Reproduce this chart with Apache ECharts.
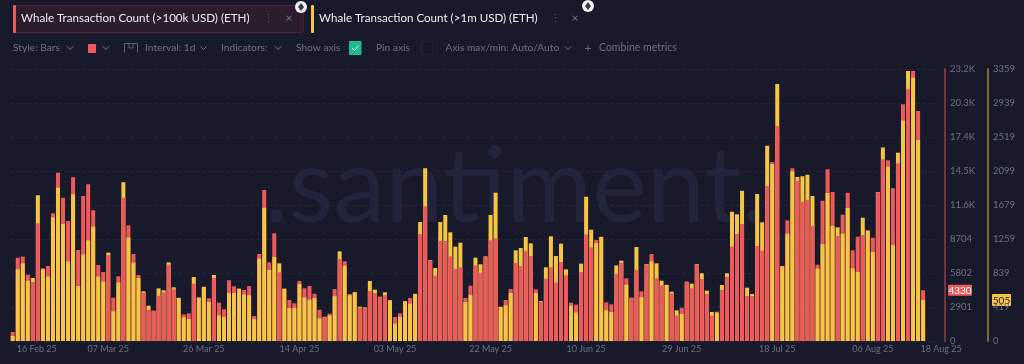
<!DOCTYPE html>
<html>
<head>
<meta charset="utf-8">
<title>Whale Transaction Count</title>
<script src="https://cdn.jsdelivr.net/npm/echarts@6/dist/echarts.min.js"></script>
<style>
html,body{margin:0;padding:0;background:#181a2b;}
#main{width:1024px;height:364px;}
</style>
</head>
<body>
<div id="main"></div>
<script>
var startDay = Date.UTC(2025, 1, 16);
var dayCount = 184; // last two days (17, 18 Aug) have no bars yet

var whale100k = [768,7110,7195,5660,5034,10039,6200,6399,10893,14362,12229,10238,13964,7764,12371,13367,11148,6484,5887,7338,
3697,5517,12229,9869,7423,5631,4124,2645,2560,3868,4152,6513,4408,3697,2275,2361,4892,3726,4636,3640,
5375,3271,2702,5176,4664,4494,4351,4693,2133,7423,12883,6712,9186,5859,4494,3498,3214,5119,4494,4693,
4038,2673,2019,2332,4437,6996,6797,4010,4181,2844,2844,4266,4095,3754,3925,3498,2048,2361,3413,3669,
4038,9129,11490,6882,5574,8532,8532,7224,6143,6285,3669,4721,6456,5830,7195,8589,8760,2929,3498,4437,
6655,6399,7679,7252,4408,3384,5318,6285,5005,6740,5603,3271,3100,5887,9101,7992,8617,8902,3299,3128,
5716,6683,5347,3669,6058,4238,6541,7423,5347,4749,4806,4067,2161,2844,5034,4494,6541,5290,4010,2161,
2503,4351,5489,8049,9129,9982,3839,3839,8105,7707,13225,15272,18344,6399,10295,14732,13680,11888,12059,9812,
6513,11973,14647,12713,8959,10779,12656,7736,8902,9044,9442,8816,12684,15500,15414,13026,15159,20192,21472,23036,
19624,4330,null,null];

var whale1m = [62,885,959,745,778,1799,885,794,1527,1893,1445,980,1811,679,1070,1243,1412,794,733,1091,
366,724,1959,1276,967,778,613,436,375,650,626,971,663,531,292,272,790,535,667,482,
815,317,296,593,593,642,576,564,272,1017,1646,877,1037,959,642,407,412,704,539,510,
531,280,300,317,552,1107,930,564,601,424,416,741,634,547,601,502,214,296,490,461,
580,1469,2132,1000,901,1469,1556,1342,1165,1214,482,568,1029,947,1045,1556,1832,420,440,593,
1120,1148,1284,1206,593,494,910,1292,1050,1202,885,436,350,955,1782,1375,1210,1284,379,358,
934,992,696,535,1161,543,951,984,959,745,691,609,379,333,733,708,951,836,622,358,
350,691,836,1597,1564,1856,659,580,1815,1465,2412,2186,3173,922,1325,2095,2025,2033,2054,1790,
893,1194,1827,1420,1404,1325,1642,897,852,1523,1362,1099,1840,2391,2153,1185,2326,2721,3334,3252,
2482,505,null,null];

var redTicks = ['0','2901','5802','8704','11.6K','14.5K','17.4K','20.3K','23.2K'];
var yellowTicks = ['0','419','839','1259','1679','2099','2519','2939','3359'];
var xTickDays = ['16 Feb 25','07 Mar 25','26 Mar 25','14 Apr 25','03 May 25','22 May 25','10 Jun 25','29 Jun 25','18 Jul 25','06 Aug 25','18 Aug 25'];

var lastRed = 4330;
var lastYellow = 505;
var redMax = 23210;
var yellowMax = 3359;

var RED = '#ee5a5c', YELLOW = '#f7c544', GREY = '#6b7081', BG = '#181a2b';
var FONT = 'Lato, "Noto Sans", sans-serif';
var months = ['Jan','Feb','Mar','Apr','May','Jun','Jul','Aug','Sep','Oct','Nov','Dec'];

var categories = [];
for (var d = 0; d < dayCount; d++) {
	var dt = new Date(startDay + d * 86400000);
	var dd = dt.getUTCDate();
	categories.push((dd < 10 ? '0' : '') + dd + ' ' + months[dt.getUTCMonth()] + ' 25');
}

// the shorter of the two bars sits in front, so split both metrics by who is taller
function redIsTaller(i) {
	return whale100k[i] / redMax >= whale1m[i] / yellowMax;
}
function pick(values, wantRedTaller) {
	return values.map(function (v, i) {
		if (v == null) return null;
		return redIsTaller(i) === wantRedTaller ? v : null;
	});
}

function barSeries(name, axis, color, data) {
	return {
		name: name,
		type: 'bar',
		yAxisIndex: axis,
		barWidth: 4,
		barGap: '-100%',
		animation: false,
		silent: true,
		itemStyle: { color: color },
		data: data
	};
}

function label(x, y, text, color, size, align) {
	return {
		type: 'text', x: x, y: y, silent: true,
		style: { text: text, fill: color || GREY, font: (size || 10.2) + 'px ' + FONT, textAlign: align || 'left', textVerticalAlign: 'middle' }
	};
}

function chevron(x, y) {
	return {
		type: 'polyline', silent: true,
		shape: { points: [[x - 3, y - 1.5], [x, y + 1.5], [x + 3, y - 1.5]] },
		style: { stroke: GREY, lineWidth: 1, fill: null }
	};
}

function rect(x, y, w, h, fill, stroke, r) {
	return {
		type: 'rect', silent: true,
		shape: { x: x, y: y, width: w, height: h, r: r || 0 },
		style: { fill: fill, stroke: stroke || null, lineWidth: 1 }
	};
}

function pinIcon(x, y) {
	return [
		{ type: 'circle', silent: true, shape: { cx: x, cy: y, r: 6 }, style: { fill: '#f2f2f4' } },
		{ type: 'polygon', silent: true, shape: { points: [[x, y - 4], [x + 3, y], [x, y + 4], [x - 3, y]] }, style: { fill: '#3a3c4c' } }
	];
}

var toolbar = [
	label(515, 188, '.santiment.', '#21243a', 104, 'center'),

	rect(13.5, 5.5, 290, 27, '#2b1c2e', '#4a2332', 2),
	rect(13, 5, 3, 28, RED, null, 1),
	label(21, 18.5, 'Whale Transaction Count (>100k USD) (ETH)', '#ececf0', 11.6),
	label(268, 18.5, '\u22EE', '#5d6072', 11, 'center'),
	label(289, 18.5, '\u00D7', '#777b8b', 12, 'center'),

	rect(311, 5, 3, 28, YELLOW, null, 1),
	label(319, 18.5, 'Whale Transaction Count (>1m USD) (ETH)', '#ececf0', 11.6),
	label(555, 18.5, '\u22EE', '#5d6072', 11, 'center'),
	label(575, 18.5, '\u00D7', '#777b8b', 12, 'center'),

	label(13, 48, 'Style: Bars'), chevron(70, 48),
	rect(88, 44, 8, 9, RED, null, 1), chevron(106, 48),
	{ type: 'polyline', silent: true, shape: { points: [[124.5, 52.5], [124.5, 43.5], [137.5, 43.5], [137.5, 52.5]] }, style: { stroke: '#5d6072', lineWidth: 1, fill: null } },
	{ type: 'polyline', silent: true, shape: { points: [[129, 43.5], [129, 48], [133, 48], [133, 43.5]] }, style: { stroke: '#5d6072', lineWidth: 1, fill: null } },
	label(145, 48, 'Interval: 1d'), chevron(203.5, 48),
	label(221, 48, 'Indicators:'), chevron(278, 48),
	label(296, 48, 'Show axis'),
	rect(349, 41, 12.5, 14, '#1fb98c', null, 1),
	{ type: 'polyline', silent: true, shape: { points: [[352, 48], [354.5, 50.5], [358.5, 45.5]] }, style: { stroke: '#e8fff6', lineWidth: 1, fill: null } },
	label(376, 48, 'Pin axis'),
	rect(420.5, 41.5, 12, 13, null, '#20233a', 1),
	label(445.5, 48, 'Axis max/min: Auto/Auto'), chevron(568, 48),
	label(588, 48, '+', GREY, 12, 'center'),
	label(599, 48, 'Combine metrics', GREY, 10.5)
].concat(pinIcon(301, 7), pinIcon(588, 6));

var chart = echarts.init(document.getElementById('main'));
var option = {
	backgroundColor: BG,
	textStyle: { fontFamily: FONT },
	grid: { left: 10.2, top: 69, height: 272, width: 925.5 },
	xAxis: {
		type: 'category',
		data: categories,
		axisLine: { show: false },
		axisTick: { show: false },
		axisLabel: {
			color: GREY,
			fontSize: 9,
			margin: 4,
			showMinLabel: true,
			showMaxLabel: true,
			alignMinLabel: 'left',
			hideOverlap: false,
			interval: function (i, value) { return xTickDays.indexOf(value) >= 0; },
			formatter: function (value) {
				if (value === xTickDays[0]) return '{first|' + value + '}';
				if (value === xTickDays[xTickDays.length - 1]) return '{last|' + value + '}';
				return value;
			},
			rich: {
				first: { color: GREY, fontSize: 9, padding: [0, 0, 0, 4] },
				last: { color: GREY, fontSize: 9, padding: [0, 0, 0, 16] }
			}
		},
		splitLine: { show: false }
	},
	yAxis: [{
		type: 'value',
		position: 'right',
		offset: 9.3,
		min: 0,
		max: redMax,
		interval: redMax / 8,
		axisLine: { show: true, lineStyle: { color: '#74343f', width: 2 } },
		axisTick: { show: false },
		axisLabel: { color: GREY, fontSize: 9.5, margin: 5, formatter: function (v, i) { return redTicks[i]; } },
		splitLine: { show: true, lineStyle: { color: '#22253a', type: 'dashed', width: 1 } }
	}, {
		type: 'value',
		position: 'right',
		offset: 52.3,
		min: 0,
		max: yellowMax,
		interval: yellowMax / 8,
		axisLine: { show: true, lineStyle: { color: '#7d6a3b', width: 2 } },
		axisTick: { show: false },
		axisLabel: { color: GREY, fontSize: 9.5, margin: 5, formatter: function (v, i) { return yellowTicks[i]; } },
		splitLine: { show: false }
	}],
	graphic: toolbar,
	series: [
		barSeries('Whale Transaction Count (>100k USD) (ETH)', 0, RED, pick(whale100k, true)),
		barSeries('Whale Transaction Count (>1m USD) (ETH)', 1, YELLOW, pick(whale1m, false)),
		barSeries('100k front', 0, RED, pick(whale100k, false)),
		barSeries('1m front', 1, YELLOW, pick(whale1m, true))
	]
};
chart.setOption(option);

// last value tags sit on the axes at the latest values
var redY = chart.convertToPixel({ yAxisIndex: 0 }, lastRed);
var yellowY = chart.convertToPixel({ yAxisIndex: 1 }, lastYellow);
chart.setOption({
	graphic: toolbar.concat([
		rect(948, redY - 5.5, 24, 11, RED, null, 1),
		label(960, redY + 0.5, String(lastRed), '#ffffff', 10, 'center'),
		rect(992, yellowY - 6, 19, 12, YELLOW, null, 1),
		label(1001.5, yellowY + 0.5, String(lastYellow), '#1a1a22', 10, 'center')
	])
});
</script>
</body>
</html>
